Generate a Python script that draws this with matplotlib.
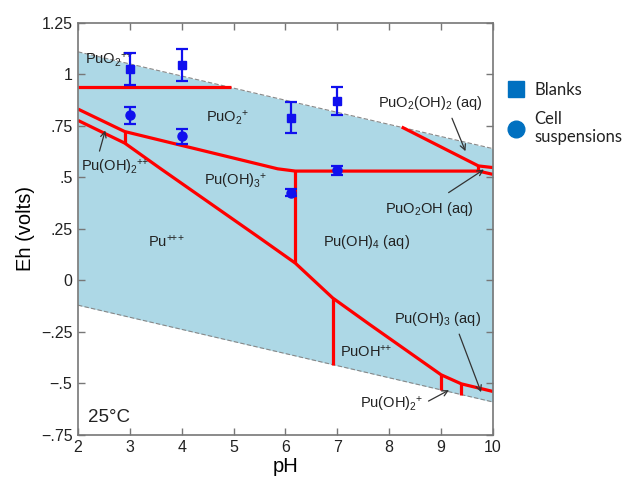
import matplotlib
matplotlib.use('Agg')
import matplotlib.pyplot as plt
from matplotlib.lines import Line2D

plt.rcParams['font.family'] = ['Liberation Sans', 'DejaVu Sans']
plt.rcParams['mathtext.fontset'] = 'custom'
plt.rcParams['mathtext.rm'] = 'Liberation Sans'
plt.rcParams['mathtext.default'] = 'regular'

# water stability limits
water_ph = [2, 10]
water_top = [1.11, 0.64]
water_bot = [-0.12, -0.59]

# species boundaries (pH, Eh)
pu6_pu5_ph = [2, 4.95]
pu6_pu5_eh = [0.937, 0.937]
upper_ph = [2, 2.9, 5.85, 6.19, 9.72, 10]
upper_eh = [0.832, 0.723, 0.542, 0.531, 0.531, 0.515]
lower_ph = [2, 2.9, 3.58, 5.5, 6.19, 6.91, 7.63, 9.0, 9.39, 10]
lower_eh = [0.777, 0.667, 0.545, 0.207, 0.084, -0.085, -0.215, -0.458, -0.502, -0.539]
pu6oh_ph = [8.24, 9.72, 10]
pu6oh_eh = [0.745, 0.556, 0.548]
vert_ph = [2.9, 6.19, 6.91, 9.0, 9.39, 9.72]
vert_top = [0.723, 0.531, -0.085, -0.458, -0.502, 0.556]
vert_bot = [0.667, 0.084, -0.409, -0.534, -0.555, 0.531]

# measurements
blank_ph = [3, 4, 6.1, 7]
blank_eh = [1.026, 1.047, 0.791, 0.872]
blank_err = [0.077, 0.077, 0.076, 0.067]
cell_ph = [3, 4, 6.1, 7]
cell_eh = [0.801, 0.699, 0.427, 0.534]
cell_err = [0.040, 0.037, 0.015, 0.024]

xticks = [2, 3, 4, 5, 6, 7, 8, 9, 10]
yticks = [1.25, 1, 0.75, 0.5, 0.25, 0, -0.25, -0.5, -0.75]
ytick_labels = ['1.25', '1', '.75', '.5', '.25', '0', '\u2212.25', '\u2212.5', '\u2212.75']

# region labels: text, pH, Eh, align
pp = r'+\!\!+'
ppp = r'+\!\!+\!\!+'
regions = [
    ('PuO$_2$$^{' + pp + '}$', 2.13, 1.07, 'left'),
    ('PuO$_2$$^{+}$', 4.89, 0.79, 'center'),
    ('Pu(OH)$_2$$^{' + pp + '}$', 2.71, 0.546, 'center'),
    ('Pu(OH)$_3$$^{+}$', 5.04, 0.48, 'center'),
    ('Pu$^{' + ppp + '}$', 3.70, 0.187, 'center'),
    ('Pu(OH)$_4$ (aq)', 7.57, 0.187, 'center'),
    ('PuOH$^{' + pp + '}$', 7.56, -0.345, 'center'),
    ('Pu(OH)$_3$ (aq)', 8.94, -0.186, 'center'),
    ('Pu(OH)$_2$$^{+}$', 8.05, -0.60, 'center'),
    ('PuO$_2$(OH)$_2$ (aq)', 8.79, 0.861, 'center'),
    ('PuO$_2$OH (aq)', 8.78, 0.347, 'center'),
]
# arrows: tail pH, tail Eh, tip pH, tip Eh
arrows = [
    (2.40, 0.615, 2.54, 0.741),
    (9.19, 0.800, 9.49, 0.615),
    (9.10, 0.419, 9.87, 0.546),
    (9.33, -0.248, 9.79, -0.555),
    (8.71, -0.592, 9.20, -0.526),
]

fig = plt.figure(figsize=(6.32, 4.79), dpi=100)
ax = fig.add_axes([0.1234, 0.092, 0.6566, 0.860])

ax.fill_between(water_ph, water_bot, water_top, color='#add8e6', lw=0)
ax.plot(water_ph, water_top, color='#888888', lw=0.8, ls=(0, (4, 2)))
ax.plot(water_ph, water_bot, color='#888888', lw=0.8, ls=(0, (4, 2)))

red = dict(color='#ff0000', lw=2.3, solid_capstyle='butt', solid_joinstyle='round')
ax.plot(pu6_pu5_ph, pu6_pu5_eh, **red)
ax.plot(upper_ph, upper_eh, **red)
ax.plot(lower_ph, lower_eh, **red)
ax.plot(pu6oh_ph, pu6oh_eh, **red)
ax.vlines(vert_ph, vert_bot, vert_top, colors='#ff0000', lw=2.3)

ax.errorbar(blank_ph, blank_eh, yerr=blank_err, fmt='s', color='#1010ee',
            ms=6, capsize=4, elinewidth=1.6, capthick=1.6, zorder=5)
ax.errorbar(cell_ph, cell_eh, yerr=cell_err, fmt='o', color='#1010ee',
            ms=6.5, capsize=4, elinewidth=1.6, capthick=1.6, zorder=5)

for txt, x, y, ha in regions:
    ax.text(x, y, txt, ha=ha, va='center', fontsize=10.5, color='#222222')
for x0, y0, x1, y1 in arrows:
    ax.annotate('', xy=(x1, y1), xytext=(x0, y0),
                arrowprops=dict(arrowstyle='->', color='#333333', lw=0.9))
ax.text(2.19, -0.667, '25°C', ha='left', va='center', fontsize=13.5, color='#222222')

ax.set_xlim(2, 10)
ax.set_ylim(-0.75, 1.25)
ax.set_xticks(xticks)
ax.set_yticks(yticks)
ax.set_yticklabels(ytick_labels)
ax.tick_params(direction='in', top=True, right=True, labeltop=False, labelright=False,
               length=5, width=1, color='#777777', labelsize=11.5, labelcolor='#222222', pad=4)
for s in ax.spines.values():
    s.set_color('#777777')
    s.set_linewidth(1.2)
ax.set_xlabel('pH', fontsize=14.5, labelpad=1)
ax.set_ylabel('Eh (volts)', fontsize=14.5, labelpad=4)

handles = [
    Line2D([], [], ls='none', marker='s', ms=11, color='#0070c0'),
    Line2D([], [], ls='none', marker='o', ms=12, color='#0070c0'),
]
leg = fig.legend(handles, ['Blanks', 'Cell\nsuspensions'], loc='upper left',
                 bbox_to_anchor=(0.777, 0.86), frameon=False,
                 prop={'family': 'Lato', 'size': 12}, handletextpad=0.5,
                 labelspacing=0.75, handlelength=1.2)
for t in leg.get_texts():
    t.set_color('#222222')

fig.savefig('out.png', dpi=100)
